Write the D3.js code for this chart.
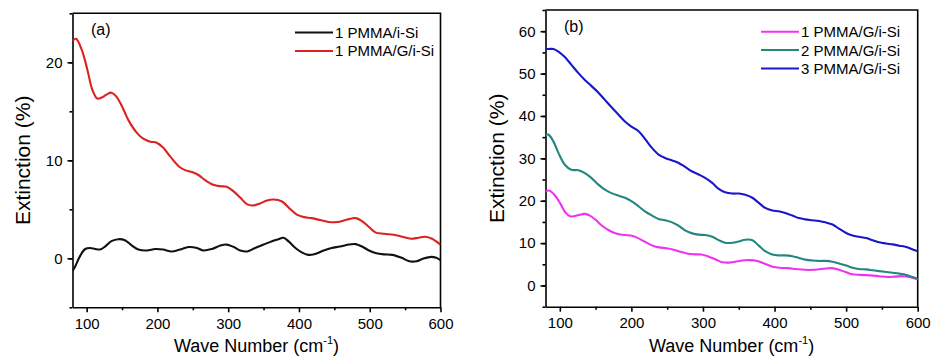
<!DOCTYPE html>
<html>
<head>
<meta charset="utf-8">
<script src="https://cdn.jsdelivr.net/npm/d3@7"></script>
<style>
  body { margin: 0; background: #fff; }
  svg { font-family: "Liberation Sans", Arial, sans-serif; }
  .axis path, .axis line { stroke: #000; stroke-width: 1.6; }
  .axis text { font-size: 15px; fill: #000; }
</style>
</head>
<body>
<div id="container"></div>
<script>
// ---- data ----
// 1 PMMA/i-Si (black, panel a)
var siWave = [80, 84, 91, 98, 105, 112, 119, 126, 135, 145, 154, 164, 173, 185, 197, 208, 220, 232, 244, 256,
              265, 277, 289, 298, 308, 317, 327, 338, 350, 362, 371, 378, 385, 395, 404, 413, 423, 435, 446, 458,
              470, 480, 489, 499, 508, 520, 532, 545, 556, 566, 575, 587, 594, 600];
var siExt = [-1.3, -0.8, 0.27, 0.95, 1.05, 0.95, 0.9, 1.2, 1.75, 1.95, 1.85, 1.3, 0.9, 0.8, 0.95, 0.9, 0.7, 0.9, 1.15, 1.05,
             0.8, 0.95, 1.3, 1.4, 1.15, 0.8, 0.7, 1.05, 1.4, 1.75, 1.95, 2.1, 1.75, 1.05, 0.6, 0.35, 0.45, 0.8, 1.05, 1.2,
             1.4, 1.45, 1.2, 0.8, 0.55, 0.4, 0.35, 0.05, -0.3, -0.3, -0.05, 0.15, 0.05, -0.2];

// 1 PMMA/G/i-Si (red in a, magenta in b)
var g1Wave = [80, 85, 93, 101, 108, 115, 121, 128, 135, 142, 150, 159, 171, 180, 190, 199, 208, 218, 230, 239,
              249, 258, 267, 279, 289, 298, 308, 317, 327, 336, 345, 355, 364, 376, 388, 397, 407, 418, 430, 442,
              454, 468, 480, 489, 499, 508, 520, 534, 546, 558, 569, 579, 588, 600];
var g1Ext = [22.2, 22.4, 21.3, 19.25, 17.2, 16.3, 16.4, 16.7, 16.9, 16.5, 15.5, 14.1, 12.8, 12.2, 11.9, 11.8, 11.3, 10.4, 9.4, 9.0,
             8.8, 8.5, 8.0, 7.5, 7.35, 7.3, 6.8, 6.2, 5.5, 5.4, 5.6, 5.9, 6.0, 5.8, 5.0, 4.45, 4.2, 4.1, 3.9, 3.7,
             3.7, 3.95, 4.1, 3.8, 3.2, 2.65, 2.5, 2.4, 2.2, 2.0, 2.1, 2.2, 2.0, 1.4];

// 2 and 3 PMMA/G/i-Si (panel b)
var bWave = [80, 84, 91, 98, 107, 116, 126, 135, 144, 154, 163, 172, 182, 191, 200, 210, 219, 229, 238, 247,
             257, 266, 275, 285, 294, 303, 313, 322, 331, 341, 350, 359, 369, 378, 387, 397, 406, 415, 425, 434,
             443, 453, 462, 471, 481, 490, 500, 509, 518, 528, 537, 546, 556, 565, 574, 584, 593, 600];
var g2Ext = [35.3, 35.6, 34.0, 31.3, 28.5, 27.3, 27.2, 26.5, 25.4, 23.8, 22.6, 21.8, 21.2, 20.7, 19.9, 18.7, 17.5, 16.5, 15.7, 15.4,
             14.9, 14.1, 13.0, 12.3, 12.0, 11.9, 11.5, 10.7, 10.1, 10.1, 10.4, 10.8, 10.7, 9.4, 8.1, 7.3, 7.1, 7.1, 6.9, 6.5,
             6.1, 5.9, 5.8, 5.8, 5.6, 5.2, 4.7, 4.2, 3.9, 3.8, 3.6, 3.4, 3.2, 3.0, 2.8, 2.5, 2.0, 1.6];
var g3Ext = [55.8, 55.8, 55.8, 55.2, 53.9, 52.1, 50.1, 48.5, 47.1, 45.5, 43.8, 42.1, 40.3, 38.7, 37.5, 36.4, 34.6, 32.4, 30.9, 30.1,
             29.5, 28.9, 28.0, 26.9, 26.2, 25.4, 24.2, 22.8, 22.0, 21.7, 21.7, 21.4, 20.7, 19.5, 18.3, 17.7, 17.5, 17.1, 16.5, 15.9,
             15.6, 15.4, 15.2, 14.9, 14.4, 13.4, 12.4, 11.8, 11.5, 11.2, 10.7, 10.2, 9.9, 9.7, 9.4, 9.1, 8.5, 8.1];

// tick labels
var xTicks = [100, 200, 300, 400, 500, 600];
var yTicksA = [0, 10, 20];
var yTicksB = [0, 10, 20, 30, 40, 50, 60];

// make svg
var svg = d3.select("#container")
            .append("svg")
            .attr("width", 932)
            .attr("height", 358);

// panel (a)
drawPanel({
    left: 72.5, right: 440.5, top: 13.3, bottom: 307.3,
    yDomain: [-5, 25], yTicks: yTicksA, yMinor: d3.range(-5, 26, 5),
    label: "(a)", labelX: 91, labelY: 35,
    yTitleX: 22,
    legendX: 295, legendY: 32.5,
    series: [
        { name: "1 PMMA/i-Si", x: siWave, y: siExt, color: "#111111" },
        { name: "1 PMMA/G/i-Si", x: g1Wave, y: g1Ext, color: "#dd2020" }
    ]
});

// panel (b)
drawPanel({
    left: 545.5, right: 917.7, top: 10, bottom: 306.7,
    yDomain: [-5, 65], yTicks: yTicksB, yMinor: d3.range(-5, 66, 5),
    label: "(b)", labelX: 564, labelY: 32,
    yTitleX: 496,
    legendX: 761, legendY: 31.7,
    series: [
        { name: "1 PMMA/G/i-Si", x: g1Wave, y: g1Ext, color: "#f032f0" },
        { name: "2 PMMA/G/i-Si", x: bWave, y: g2Ext, color: "#238680" },
        { name: "3 PMMA/G/i-Si", x: bWave, y: g3Ext, color: "#1818c8" }
    ]
});

// function to draw one panel
function drawPanel(p) {
    var g = svg.append("g");

    var x = d3.scaleLinear().domain([80, 600]).range([p.left, p.right]);
    var y = d3.scaleLinear().domain(p.yDomain).range([p.bottom, p.top]);

    // minor ticks first
    g.append("g")
     .attr("class", "axis")
     .attr("transform", "translate(0," + p.bottom + ")")
     .call(d3.axisBottom(x).tickValues(d3.range(150, 600, 100)).tickSize(3).tickFormat(""))
     .select(".domain").remove();
    g.append("g")
     .attr("class", "axis")
     .attr("transform", "translate(" + p.left + ",0)")
     .call(d3.axisLeft(y).tickValues(p.yMinor).tickSize(3).tickFormat(""))
     .select(".domain").remove();

    // major ticks
    g.append("g")
     .attr("class", "axis")
     .attr("transform", "translate(0," + p.bottom + ")")
     .call(d3.axisBottom(x).tickValues(xTicks).tickSize(5).tickSizeOuter(0).tickPadding(6));
    g.append("g")
     .attr("class", "axis")
     .attr("transform", "translate(" + p.left + ",0)")
     .call(d3.axisLeft(y).tickValues(p.yTicks).tickSize(5).tickSizeOuter(0).tickPadding(5));

    // top and right frame
    g.append("path")
     .attr("d", "M" + p.left + "," + p.top + "H" + p.right + "V" + p.bottom)
     .attr("fill", "none")
     .attr("stroke", "#000")
     .attr("stroke-width", 1.6);

    // curves
    var clipId = "clip" + p.label.replace(/\W/g, "");
    g.append("clipPath").attr("id", clipId)
     .append("rect")
     .attr("x", p.left).attr("y", p.top)
     .attr("width", p.right - p.left).attr("height", p.bottom - p.top);

    var line = d3.line()
                 .x(function(d) { return x(d[0]); })
                 .y(function(d) { return y(d[1]); })
                 .curve(d3.curveCatmullRom.alpha(0.5));

    p.series.forEach(function(s) {
        g.append("path")
         .datum(d3.zip(s.x, s.y))
         .attr("clip-path", "url(#" + clipId + ")")
         .attr("fill", "none")
         .attr("stroke", s.color)
         .attr("stroke-width", 2.1)
         .attr("d", line);
    });

    // legend
    p.series.forEach(function(s, i) {
        var ly = p.legendY + i * 18.4;
        g.append("line")
         .attr("x1", p.legendX).attr("x2", p.legendX + 38)
         .attr("y1", ly).attr("y2", ly)
         .attr("stroke", s.color)
         .attr("stroke-width", 2);
        g.append("text")
         .attr("x", p.legendX + 40)
         .attr("y", ly + 5.5)
         .attr("font-size", "15px")
         .text(s.name);
    });

    // panel label
    g.append("text")
     .attr("x", p.labelX)
     .attr("y", p.labelY)
     .attr("font-size", "16px")
     .text(p.label);

    // x title
    var xt = g.append("text")
              .attr("x", (p.left + p.right) / 2)
              .attr("y", 352)
              .attr("text-anchor", "middle")
              .attr("font-size", "18px")
              .text("Wave Number (cm");
    xt.append("tspan").attr("font-size", "11px").attr("dy", -8).text("-1");
    xt.append("tspan").attr("dy", 8).text(")");

    // y title
    g.append("text")
     .attr("transform", "translate(" + (p.yTitleX + 8) + "," + ((p.top + p.bottom) / 2) + ") rotate(-90)")
     .attr("text-anchor", "middle")
     .attr("font-size", "21px")
     .text("Extinction (%)");
}
</script>
</body>
</html>
